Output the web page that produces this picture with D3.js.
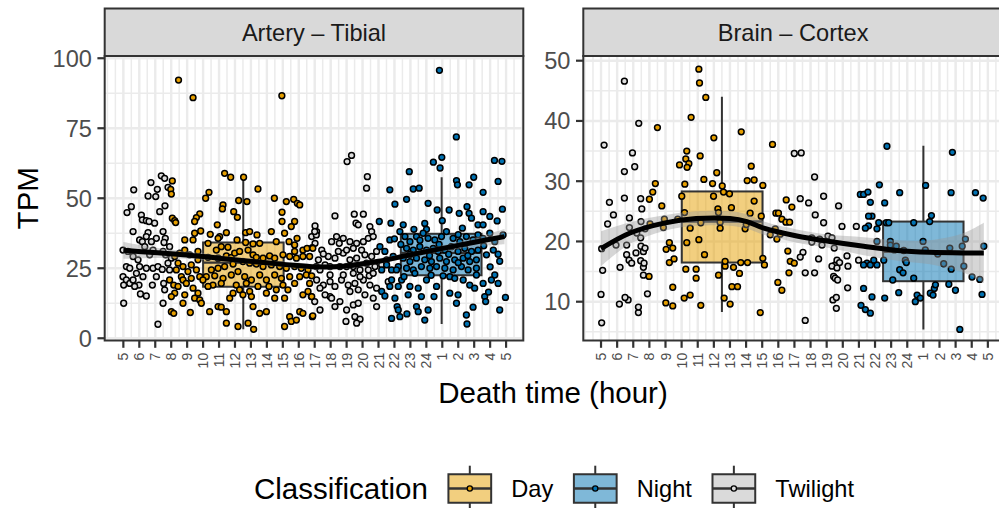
<!DOCTYPE html>
<html>
<head>
<meta charset="utf-8">
<script src="https://cdn.jsdelivr.net/npm/d3@7"></script>
<style>
  html, body { margin: 0; padding: 0; background: #ffffff; }
  svg { display: block; font-family: "Liberation Sans", Arial, Helvetica, sans-serif; }
</style>
</head>
<body>
<svg id="chart" width="999" height="508"></svg>
<script>
// ---------------------------------------------------------------
// Data: expression (TPM) against death time, per tissue and class
// ---------------------------------------------------------------
const tissues = ["Artery – Tibial", "Brain – Cortex"];
const classes = ["Day", "Night", "Twilight"];

// x axis: continuous hour of death, wrapped past midnight (25 = 1 h, ...)
const hourTicks = [5,6,7,8,9,10,11,12,13,14,15,16,17,18,19,20,21,22,23,24,25,26,27,28,29];
const hourTickLabels = ["5","6","7","8","9","10","11","12","13","14","15","16","17","18","19","20","21","22","23","24","1","2","3","4","5"];
const arteryTpmTicks = [0, 25, 50, 75, 100];
const cortexTpmTicks = [10, 20, 30, 40, 50];

// samples as [hour, TPM]
const arteryTwilight = [
  [7.38,58.0],[7.59,57.1],[6.73,55.6],[5.65,53.0],[7.13,53.2],[7.80,53.9],[6.55,50.8],[7.03,50.6],[7.61,47.3],[5.50,47.0],
  [5.23,44.9],[7.28,45.2],[6.13,44.0],[6.19,42.3],[6.44,42.0],[6.61,41.7],[6.96,41.1],[5.61,38.1],[6.55,37.7],[7.49,38.1],
  [6.02,35.1],[6.44,36.3],[7.07,35.7],[6.76,34.5],[6.19,34.5],[7.63,35.7],[7.55,34.2],[6.34,32.7],[4.98,31.5],[5.29,31.0],
  [6.65,29.8],[7.49,31.0],[7.65,29.8],[8.01,28.6],[5.61,29.2],[5.92,28.0],[5.19,25.6],[5.40,25.0],[6.44,25.0],[6.86,25.0],
  [7.17,25.6],[7.44,24.6],[7.80,26.8],[5.82,23.2],[4.98,22.0],[5.19,20.8],[5.02,19.0],[5.40,19.6],[5.98,19.0],[6.82,19.0],
  [7.53,19.6],[7.59,17.3],[6.07,15.8],[6.44,15.1],[7.49,12.5],[5.02,12.5],[7.17,5.0],[5.61,20.8],[6.23,22.0],[7.07,22.0],
  [7.90,24.4],[6.02,25.6],[6.86,31.5],[7.90,32.7],[5.71,18.5],
  [19.03,63.1],[19.31,65.3],[20.30,57.7],[20.25,53.6],[18.27,43.7],[19.48,44.3],[20.05,44.3],[19.59,41.1],[19.73,40.5],[17.02,40.1],
  [17.12,38.1],[20.46,39.9],[20.57,38.1],[16.81,36.3],[17.02,33.9],[17.44,31.5],[18.06,34.5],[18.37,36.3],[18.79,35.7],[18.54,33.9],
  [19.21,34.5],[19.63,33.9],[20.05,34.5],[20.36,35.7],[20.67,36.3],[19.42,32.1],[19.94,31.5],[17.85,29.2],[18.27,28.6],[17.23,28.0],
  [17.65,26.2],[18.79,30.4],[19.21,28.0],[19.63,28.6],[20.15,29.8],[20.57,29.2],[20.88,31.0],[17.33,24.4],[17.96,25.6],[18.58,25.6],
  [19.00,25.6],[19.42,25.6],[19.84,24.4],[20.36,24.4],[20.78,25.6],[21.20,26.2],[21.51,28.0],[17.12,20.8],[17.54,19.0],[17.96,20.2],
  [18.27,18.5],[18.68,20.8],[19.10,19.0],[19.52,19.6],[20.05,20.8],[20.46,19.0],[20.88,17.9],[19.73,17.3],[19.21,16.7],[20.42,22.3],
  [17.96,14.9],[18.58,13.1],[18.06,14.3],[18.27,11.3],[19.42,11.9],[19.73,12.5],[17.33,10.1],[19.52,7.7],[19.84,6.8],[18.96,6.0],
  [19.63,5.4],[17.10,36.9],[17.00,38.1],[17.10,25.6],[17.00,13.1],[17.54,30.1],[18.48,31.0],[19.00,31.5],[20.25,26.8],[20.67,23.2],
  [18.79,22.6],[17.96,22.6],[17.33,17.9],[20.15,15.5],[20.67,14.3],[19.00,10.1],[20.88,11.3],[17.65,15.5],[21.61,20.2],[19.42,23.2],
  [19.84,22.0]
];
const arteryDay = [
  [8.46,92.2],[9.37,85.9],[14.94,86.6],
  [7.97,53.2],[8.07,56.2],[8.01,51.5],[8.07,42.9],[8.22,42.0],[8.28,41.3],[9.79,44.4],[9.58,43.1],[9.47,41.7],[10.16,50.0],[10.37,52.1],
  [11.25,47.6],[11.21,46.2],[11.35,58.9],[11.73,57.5],[12.54,57.5],[12.23,49.2],[12.75,48.8],[11.92,45.2],[12.15,43.2],[13.44,53.3],
  [14.47,50.0],[15.22,48.8],[15.68,49.6],[15.91,48.2],[16.06,47.6],[14.95,45.0],[14.95,41.7],[15.74,41.7],[15.53,39.9],
  [8.85,35.1],[9.37,35.1],[9.47,37.5],[9.85,38.3],[10.45,37.1],[10.89,40.5],[11.04,36.3],[11.46,37.7],[10.94,35.7],[10.31,33.9],
  [11.14,32.7],[10.83,31.5],[11.56,32.5],[12.13,35.1],[12.67,37.7],[12.92,38.1],[13.38,36.9],[12.67,34.2],[13.13,33.7],[13.55,33.9],
  [14.28,38.1],[14.59,34.5],[15.11,37.5],[15.39,34.5],[15.89,35.7],[15.74,33.3],[15.74,31.0],[16.26,31.5],[16.52,32.1],[16.85,32.4],
  [10.31,28.9],[10.94,28.6],[11.46,29.4],[11.77,28.9],[11.98,30.4],[12.29,31.0],[12.82,31.5],[13.13,29.8],[13.34,28.9],[13.76,28.6],
  [14.17,29.4],[14.49,28.6],[15.01,29.8],[15.43,29.2],[15.85,28.6],[16.26,29.2],[16.68,29.2],
  [10.52,24.4],[10.94,25.0],[11.35,25.6],[11.88,26.5],[12.50,27.4],[12.92,26.8],[13.34,26.5],[13.76,25.6],[14.28,26.2],[14.80,25.6],
  [15.22,25.0],[15.74,25.6],[16.16,25.0],[16.58,24.4],
  [10.20,22.0],[10.73,22.3],[11.25,21.4],[11.77,22.6],[12.19,23.8],[12.61,22.0],[13.03,20.8],[13.55,22.6],[13.97,20.8],[14.49,22.6],
  [14.91,21.4],[15.43,22.0],[16.06,22.0],[16.47,22.6],
  [10.62,19.0],[11.14,19.6],[12.08,19.0],[12.71,19.6],[13.44,18.5],[15.01,19.0],[15.74,19.6],
  [8.22,29.2],[8.53,30.4],[8.85,31.5],[9.16,29.8],[9.68,31.0],[8.43,26.8],[8.74,25.6],[9.26,26.2],[9.68,28.0],[8.32,24.4],
  [9.05,23.8],[9.58,24.4],[8.64,22.0],[9.26,21.4],[9.79,22.0],[7.90,20.8],[8.16,19.0],[8.43,18.5],[8.74,20.8],[8.95,19.6],
  [9.37,17.9],[9.99,20.8],[10.31,18.5],
  [8.22,16.1],[8.85,15.5],[9.68,16.1],[9.47,14.3],[9.79,13.7],[9.89,12.5],[8.74,12.5],[8.01,14.9],[8.01,9.5],[8.16,8.9],
  [9.20,9.2],[10.41,9.5],[10.94,11.3],[11.14,11.1],[11.46,9.5],[11.46,5.4],[11.67,14.3],[11.88,16.1],[12.19,4.2],[12.29,17.3],
  [12.50,15.5],[12.92,16.7],[13.03,14.9],[13.13,11.3],[12.82,5.4],[13.17,3.2],[13.55,8.9],[13.97,9.5],[13.97,16.1],[14.13,18.5],
  [14.49,14.3],[14.59,17.3],[15.11,4.2],[15.11,14.3],[15.32,17.3],[15.43,7.7],[15.53,6.0],[15.85,6.5],[16.06,9.5],[16.26,8.9],
  [16.26,15.5],[16.58,16.7],[16.68,19.6],[16.79,14.9],[16.85,7.7],
  [16.88,32.1],[16.81,22.3],[16.81,14.9],[16.88,8.0]
];
const arteryNight = [
  [24.82,95.7],[25.88,71.9],[24.44,62.9],[24.97,64.6],[24.86,60.8],[28.27,63.5],[28.74,63.2],
  [22.93,59.5],[21.71,53.0],[23.18,53.3],[23.55,53.6],[22.76,49.6],[22.03,47.9],[24.11,48.2],[24.68,45.8],[25.89,56.3],[25.95,54.8],
  [26.68,54.8],[26.97,57.5],[27.56,52.1],[28.50,56.0],[28.77,46.1],[26.55,47.0],[25.43,45.8],[26.06,44.6],[26.68,44.6],[21.05,41.7],
  [21.78,41.1],[22.55,40.5],[26.83,42.9],[27.56,45.2],[27.24,40.5],[27.98,43.5],[28.44,41.9],[27.56,40.5],[26.26,39.3],[24.01,38.9],
  [23.22,38.9],
  [21.09,32.7],[21.40,31.0],[21.71,35.1],[21.92,29.2],[21.51,26.2],[21.20,24.4],[21.82,24.4],[22.24,25.6],[22.34,38.1],[22.66,36.3],
  [22.97,34.5],[23.38,36.3],[23.80,37.5],[24.11,35.7],[24.53,35.1],[24.95,36.3],[25.26,38.1],[25.68,35.7],[26.10,34.5],[26.51,36.3],
  [26.93,35.1],[27.24,36.9],[27.56,35.7],[27.98,37.5],[28.29,34.5],[28.81,36.9],
  [22.76,32.1],[23.18,31.5],[23.59,32.7],[24.01,31.5],[24.43,32.1],[24.74,31.0],[25.16,31.5],[25.57,32.7],[25.99,31.0],[26.41,32.1],
  [26.83,31.0],[27.24,31.5],[27.77,29.8],
  [22.55,28.6],[22.97,27.4],[23.38,28.6],[23.90,28.0],[24.32,27.4],[24.84,28.6],[25.26,27.4],[25.78,28.0],[26.31,28.6],[26.72,27.4],
  [27.14,28.0],
  [22.13,24.4],[22.76,25.0],[23.18,24.4],[23.69,25.6],[24.22,25.0],[24.64,25.6],[25.16,25.0],[25.68,24.4],[26.20,25.6],[26.62,24.4],
  [27.14,25.0],
  [21.20,16.7],[21.40,15.1],[21.82,20.8],[22.24,18.5],[22.03,14.3],[22.17,11.3],[22.24,10.1],[21.82,7.1],[22.34,7.7],[22.78,8.7],
  [22.97,18.5],[22.86,15.5],[23.49,17.9],[23.69,14.9],[23.38,11.3],[23.49,9.5],[24.11,10.1],[23.90,6.5],[24.48,14.9],[24.64,18.5],
  [23.28,23.2],[25.05,22.3],[25.47,22.0],[25.78,21.4],[25.47,16.1],[25.99,15.5],[25.89,12.5],[26.51,8.3],[26.55,5.1],[26.93,11.1],
  [26.72,19.0],[27.03,17.9],[27.14,22.6],[27.56,19.6],[27.66,14.9],[27.72,13.1],[28.08,20.8],[28.29,22.6],[28.50,19.6],[28.60,10.1],
  [28.96,14.6],[21.71,18.5],[22.45,20.8],[24.01,20.8],[26.31,20.8],
  [22.40,33.5],[23.00,30.0],[23.60,35.0],[24.20,29.5],[24.80,33.5],[25.40,30.0],[26.00,37.0],[26.60,29.5],[27.60,33.0],[28.20,31.5],
  [28.60,27.5],[22.00,35.5],[23.90,41.0],[25.00,42.0],[28.00,25.5],[28.50,30.0],[22.60,22.0],[24.30,22.5],[26.00,27.0],[27.90,16.5]
];

const cortexTwilight = [
  [5.19,36.0],[6.45,46.6],[6.95,34.7],[7.09,32.4],[6.45,31.6],[7.34,39.6],
  [5.04,18.8],[5.10,15.2],[5.00,11.2],[5.04,6.5],[5.41,22.9],[5.52,26.5],[5.77,24.4],[5.93,19.4],[6.45,27.2],[6.18,15.7],
  [6.14,9.6],[6.68,10.3],[6.49,10.7],[6.76,23.9],[6.76,22.3],[6.59,19.4],[6.59,17.8],[6.74,16.9],[6.90,16.4],[7.17,18.1],
  [7.22,21.4],[7.32,8.2],[7.32,9.1],[7.46,27.1],[7.53,25.4],[7.48,23.3],[7.46,20.6],[7.48,19.2],[7.63,18.3],[7.46,16.8],
  [7.63,15.7],[7.73,18.9],[7.63,14.4],[7.88,11.3],[7.73,22.1],[7.67,16.4],
  [16.99,34.6],[17.42,34.7],[18.25,30.7],
  [17.36,27.1],[17.88,26.4],[17.53,18.2],[17.36,17.4],[17.67,14.8],[17.67,6.9],[18.08,20.6],[18.08,19.9],[18.29,24.4],[18.25,14.8],
  [18.50,17.1],[18.56,20.4],[18.71,19.4],[18.81,27.5],[18.81,23.1],[19.08,20.9],[19.33,20.6],[19.43,14.2],[19.53,16.1],[19.53,13.9],
  [19.33,15.9],[19.47,18.9],[19.64,16.9],[19.64,15.6],[19.74,25.9],[19.68,13.6],[19.95,22.5],[19.39,10.3],[19.60,10.7],[19.60,8.9],
  [19.80,16.5],[20.26,17.6],[20.32,15.9],[20.30,12.3],[20.84,22.5],[20.98,16.9]
];
const cortexDay = [
  [8.50,38.9],[8.37,29.6],[8.21,28.2],[11.07,48.6],[11.11,46.3],[11.50,43.9],[10.59,40.6],[12.00,37.2],[13.70,38.2],[15.64,36.1],
  [9.87,32.7],[10.26,33.7],[10.32,35.0],[10.45,32.9],[10.34,32.3],[11.15,34.2],[10.20,29.5],[11.38,30.3],[11.92,29.6],[12.18,31.4],
  [12.52,29.2],[14.32,32.5],[14.07,30.1],[14.50,30.2],[15.04,29.3],
  [8.04,22.9],[8.00,27.0],[7.98,14.2],[8.77,25.9],[8.87,22.3],[8.93,23.7],[9.04,18.7],[9.24,19.8],[9.45,18.9],[9.24,16.5],
  [9.53,17.1],[9.02,9.8],[9.45,9.3],[9.45,12.4],[9.76,23.7],[10.01,27.5],[10.18,24.8],[10.32,19.8],[10.53,22.2],[10.26,15.4],
  [10.16,10.6],[10.53,11.1],[10.90,15.4],[10.90,13.9],[11.07,20.3],[11.19,23.1],[11.42,17.8],[11.19,9.4],[11.98,27.5],[12.25,25.4],
  [12.29,24.8],[12.39,23.2],[12.39,22.2],[12.29,14.4],[12.60,28.2],[12.97,27.9],[13.09,25.6],[12.70,15.9],[12.70,16.7],[12.64,10.6],
  [13.01,9.6],[13.22,15.7],[13.12,12.5],[13.47,12.5],[13.59,14.7],[13.67,16.5],[14.09,16.5],[13.94,22.1],[14.01,22.8],[14.25,24.7],
  [14.50,26.7],[14.94,24.2],[15.04,17.2],[15.14,16.1],[14.88,8.2],[15.50,21.1],[15.85,24.7],[16.01,24.7],[15.81,22.1],[15.91,20.4],
  [16.12,21.2],[15.97,13.2],[16.22,11.9],[16.22,23.7],[16.47,23.2],[16.49,26.9],[16.84,25.7],[16.70,23.2],[16.59,18.4],[16.74,16.7],
  [16.66,14.8],[16.99,16.4]
];
const cortexNight = [
  [22.74,35.8],[22.27,29.4],[25.14,29.3],[26.80,34.8],
  [21.09,27.8],[21.29,27.8],[21.56,28.2],[21.71,26.5],[21.60,22.6],[21.81,24.2],[21.40,22.2],[21.60,24.2],[21.29,12.2],[21.13,9.4],
  [21.40,8.7],[21.71,8.1],[21.50,16.4],[21.29,16.1],[21.71,16.1],[22.12,16.1],[21.92,16.9],[22.12,22.1],[22.23,23.1],[22.12,20.0],
  [22.60,26.4],[21.81,10.8],[22.54,16.9],[22.60,10.6],[22.70,23.1],[22.85,23.1],[22.95,20.0],[22.95,19.4],[23.10,13.6],[23.20,18.6],
  [23.32,19.2],[23.53,15.3],[23.74,14.8],[23.53,28.1],[23.47,11.5],[23.78,18.5],[23.88,16.9],[23.94,16.5],[24.40,23.1],[24.40,13.9],
  [24.50,10.0],[24.61,11.1],[24.81,10.6],[24.98,20.0],[25.12,18.6],[25.39,23.3],[25.50,24.3],[25.43,11.4],[25.60,11.1],[25.68,12.2],
  [25.75,12.8],[25.89,17.9],[26.26,16.3],[26.64,18.9],[26.58,12.9],[26.73,15.4],[26.72,28.1],[26.99,11.9],[27.26,5.4],[27.41,19.2],
  [27.51,15.9],[27.61,20.4],[28.02,14.1],[28.23,28.1],[28.50,13.7],[28.64,11.2],[28.75,19.2],[28.71,27.2]
];

// boxplot summaries (hour span of each class, TPM quantiles and whisker ends)
const arteryBoxes = [
  { cls: "Day",   hourMin: 10.00, hourMax: 15.05, hourMid: 12.52, lower: 3.2, q1: 18.4, median: 27.0, q3: 34.2, upper: 57.5 },
  { cls: "Night", hourMin: 22.40, hourMax: 27.46, hourMid: 24.96, lower: 5.1, q1: 22.5, median: 30.5, q3: 37.3, upper: 57.5 }
];
const cortexBoxes = [
  { cls: "Day",   hourMin: 10.01, hourMax: 15.02, hourMid: 12.50, lower: 8.3, q1: 16.5, median: 23.3, q3: 28.3, upper: 44.0 },
  { cls: "Night", hourMin: 22.50, hourMax: 27.49, hourMid: 25.00, lower: 5.4, q1: 13.4, median: 18.3, q3: 23.3, upper: 35.9 }
];

// loess trend with its standard-error half width
const arterySmoothHour = [5.0, 6.9, 9.0, 11.0, 13.1, 15.2, 17.1, 18.8, 20.9, 23.0, 25.1, 27.1, 28.9];
const arterySmoothFit  = [31.4, 30.6, 29.7, 28.6, 27.4, 26.3, 25.5, 25.7, 27.4, 29.8, 32.2, 34.4, 36.3];
const arterySmoothSe   = [3.0, 1.9, 1.3, 1.1, 1.0, 1.0, 1.0, 1.0, 1.0, 1.0, 1.1, 1.6, 2.7];
const cortexSmoothHour = [5.0, 6.8, 8.9, 10.9, 13.0, 14.05, 15.1, 17.15, 19.2, 21.3, 23.4, 25.4, 27.5, 28.75];
const cortexSmoothFit  = [18.8, 21.4, 23.05, 23.8, 23.8, 23.3, 22.2, 20.9, 20.0, 19.2, 18.5, 18.2, 18.1, 18.1];
const cortexSmoothSe   = [2.9, 1.8, 1.3, 1.2, 1.2, 1.2, 1.1, 1.1, 1.1, 1.5, 1.7, 2.0, 3.3, 5.0];

// ---------------------------------------------------------------
// Styling and layout
// ---------------------------------------------------------------
const pointFill = { Day: "#E69F00", Night: "#0072B2", Twilight: "#DDDDDD" };
const boxFill   = { Day: "#E69F00", Night: "#0072B2", Twilight: "#B5B5B5" };
const ink = "#333333";
const gridColor = "#EBEBEB";
const baseFont = 29.5, smallFont = 23.6, xTickFont = 14;

const stripTop = 8.5, panelTop = 56, panelBottom = 340.5;
const tickLen = 7.3;
const pointRadius = 2.9, pointStroke = 1.5;

const panels = [
  {
    title: tissues[0], left: 104.7, right: 523.3,
    xDomain: [3.83, 30.08], yDomain: [-0.8, 100.8],
    yTicks: arteryTpmTicks, yMinor: [12.5, 37.5, 62.5, 87.5],
    series: { Twilight: arteryTwilight, Day: arteryDay, Night: arteryNight },
    boxes: arteryBoxes,
    smooth: arterySmoothHour.map((h, i) => ({ h, fit: arterySmoothFit[i], se: arterySmoothSe[i] }))
  },
  {
    title: tissues[1], left: 583.3, right: 1003,
    xDomain: [3.90, 29.94], yDomain: [3.56, 50.78],
    yTicks: cortexTpmTicks, yMinor: [5, 15, 25, 35, 45],
    series: { Twilight: cortexTwilight, Day: cortexDay, Night: cortexNight },
    boxes: cortexBoxes,
    smooth: cortexSmoothHour.map((h, i) => ({ h, fit: cortexSmoothFit[i], se: cortexSmoothSe[i] }))
  }
];

const svg = d3.select("#chart");
svg.append("rect").attr("width", 999).attr("height", 508).attr("fill", "#ffffff");
const defs = svg.append("defs");

panels.forEach((p, pi) => {
  const x = d3.scaleLinear().domain(p.xDomain).range([p.left, p.right]);
  const y = d3.scaleLinear().domain(p.yDomain).range([panelBottom, panelTop]);
  const xMinor = d3.range(4, 30.01, 0.5).filter(v => v >= p.xDomain[0] && v <= p.xDomain[1]);

  const clipId = "panel-clip-" + pi;
  defs.append("clipPath").attr("id", clipId)
    .append("rect").attr("x", p.left).attr("y", panelTop)
    .attr("width", p.right - p.left).attr("height", panelBottom - panelTop);

  const g = svg.append("g");
  const inner = g.append("g").attr("clip-path", `url(#${clipId})`);

  inner.append("rect").attr("x", p.left).attr("y", panelTop)
    .attr("width", p.right - p.left).attr("height", panelBottom - panelTop).attr("fill", "#ffffff");

  // grid
  const grid = inner.append("g").attr("stroke", gridColor).attr("fill", "none");
  grid.selectAll("line.xminor").data(xMinor).join("line").attr("class", "xminor")
    .attr("x1", d => x(d)).attr("x2", d => x(d)).attr("y1", panelTop).attr("y2", panelBottom)
    .attr("stroke-width", 1.5);
  grid.selectAll("line.yminor").data(p.yMinor).join("line").attr("class", "yminor")
    .attr("y1", d => y(d)).attr("y2", d => y(d)).attr("x1", p.left).attr("x2", p.right)
    .attr("stroke-width", 1.5);
  grid.selectAll("line.xmajor").data(hourTicks).join("line").attr("class", "xmajor")
    .attr("x1", d => x(d)).attr("x2", d => x(d)).attr("y1", panelTop).attr("y2", panelBottom)
    .attr("stroke-width", 2.4);
  grid.selectAll("line.ymajor").data(p.yTicks).join("line").attr("class", "ymajor")
    .attr("y1", d => y(d)).attr("y2", d => y(d)).attr("x1", p.left).attr("x2", p.right)
    .attr("stroke-width", 2.4);

  // boxplots
  const boxG = inner.append("g");
  p.boxes.forEach(b => {
    const bg = boxG.append("g").attr("stroke", ink).attr("stroke-width", 2);
    bg.append("line").attr("x1", x(b.hourMid)).attr("x2", x(b.hourMid))
      .attr("y1", y(b.q3)).attr("y2", y(b.upper));
    bg.append("line").attr("x1", x(b.hourMid)).attr("x2", x(b.hourMid))
      .attr("y1", y(b.q1)).attr("y2", y(b.lower));
    bg.append("rect").attr("x", x(b.hourMin)).attr("y", y(b.q3))
      .attr("width", x(b.hourMax) - x(b.hourMin)).attr("height", y(b.q1) - y(b.q3))
      .attr("fill", boxFill[b.cls]).attr("fill-opacity", 0.5);
    bg.append("line").attr("x1", x(b.hourMin)).attr("x2", x(b.hourMax))
      .attr("y1", y(b.median)).attr("y2", y(b.median)).attr("stroke-width", 2.4);
  });

  // samples
  const pts = [];
  ["Twilight", "Day", "Night"].forEach(c => p.series[c].forEach(d => pts.push({ c, h: d[0], v: d[1] })));
  inner.append("g").selectAll("circle").data(pts).join("circle")
    .attr("cx", d => x(d.h)).attr("cy", d => y(d.v)).attr("r", pointRadius)
    .attr("fill", d => pointFill[d.c]).attr("stroke", "#000000").attr("stroke-width", pointStroke);

  // trend band and line
  const curve = d3.curveCatmullRom.alpha(0.5);
  inner.append("path").datum(p.smooth)
    .attr("d", d3.area().x(d => x(d.h)).y0(d => y(d.fit - d.se)).y1(d => y(d.fit + d.se)).curve(curve))
    .attr("fill", "#999999").attr("fill-opacity", 0.4);
  inner.append("path").datum(p.smooth)
    .attr("d", d3.line().x(d => x(d.h)).y(d => y(d.fit)).curve(curve))
    .attr("fill", "none").attr("stroke", "#000000").attr("stroke-width", 5)
    .attr("stroke-linecap", "butt");

  // panel border
  g.append("rect").attr("x", p.left).attr("y", panelTop)
    .attr("width", p.right - p.left).attr("height", panelBottom - panelTop)
    .attr("fill", "none").attr("stroke", ink).attr("stroke-width", 2);

  // strip
  g.append("rect").attr("x", p.left).attr("y", stripTop)
    .attr("width", p.right - p.left).attr("height", panelTop - stripTop)
    .attr("fill", "#D9D9D9").attr("stroke", ink).attr("stroke-width", 2);
  g.append("text").attr("x", (p.left + p.right) / 2).attr("y", (stripTop + panelTop) / 2)
    .attr("dy", "0.36em").attr("text-anchor", "middle")
    .attr("font-size", smallFont).attr("fill", "#1A1A1A").text(p.title);

  // x axis
  const xa = g.append("g");
  xa.selectAll("line").data(hourTicks).join("line")
    .attr("x1", d => x(d)).attr("x2", d => x(d))
    .attr("y1", panelBottom).attr("y2", panelBottom + tickLen)
    .attr("stroke", ink).attr("stroke-width", 2.2);
  xa.selectAll("text").data(hourTicks).join("text")
    .attr("transform", d => `translate(${x(d)},${panelBottom + tickLen + 5}) rotate(-90)`)
    .attr("text-anchor", "end").attr("dy", "0.36em")
    .attr("font-size", xTickFont).attr("fill", "#4D4D4D")
    .text((d, i) => hourTickLabels[i]);

  // y axis
  const ya = g.append("g");
  ya.selectAll("line").data(p.yTicks).join("line")
    .attr("x1", p.left - tickLen).attr("x2", p.left)
    .attr("y1", d => y(d)).attr("y2", d => y(d))
    .attr("stroke", ink).attr("stroke-width", 2.2);
  ya.selectAll("text").data(p.yTicks).join("text")
    .attr("x", p.left - tickLen - 5.5).attr("y", d => y(d)).attr("dy", "0.36em")
    .attr("text-anchor", "end").attr("font-size", smallFont).attr("fill", "#4D4D4D")
    .text(d => d);
});

// axis titles
svg.append("text").attr("x", 553).attr("y", 403).attr("text-anchor", "middle")
  .attr("font-size", baseFont).attr("fill", "#000000").text("Death time (hour)");
svg.append("text").attr("transform", `translate(38,${(panelTop + panelBottom) / 2}) rotate(-90)`)
  .attr("text-anchor", "middle").attr("font-size", baseFont).attr("fill", "#000000").text("TPM");

// legend
const legendMid = 488.5, keySize = 57;
const legend = svg.append("g");
const legendTitle = legend.append("text").attr("x", 254).attr("y", legendMid).attr("dy", "0.36em")
  .attr("font-size", baseFont).attr("fill", "#000000").text("Classification");
let cursor = 254 + legendTitle.node().getComputedTextLength() + 13.5;
classes.forEach(c => {
  const k = legend.append("g").attr("transform", `translate(${cursor},${legendMid - keySize / 2})`);
  k.append("rect").attr("width", keySize).attr("height", keySize).attr("fill", "#ffffff");
  const kg = k.append("g").attr("stroke", ink).attr("stroke-width", 2);
  kg.append("line").attr("x1", keySize / 2).attr("x2", keySize / 2).attr("y1", keySize * 0.1).attr("y2", keySize * 0.25);
  kg.append("line").attr("x1", keySize / 2).attr("x2", keySize / 2).attr("y1", keySize * 0.75).attr("y2", keySize * 0.9);
  kg.append("rect").attr("x", keySize * 0.125).attr("y", keySize * 0.25)
    .attr("width", keySize * 0.75).attr("height", keySize * 0.5)
    .attr("fill", boxFill[c]).attr("fill-opacity", 0.5);
  kg.append("line").attr("x1", keySize * 0.125).attr("x2", keySize * 0.875)
    .attr("y1", keySize / 2).attr("y2", keySize / 2).attr("stroke-width", 2.4);
  k.append("circle").attr("cx", keySize / 2).attr("cy", keySize / 2).attr("r", 2.6)
    .attr("fill", pointFill[c]).attr("stroke", "#000000").attr("stroke-width", 1.3);
  const labelX = cursor + keySize + 13;
  const lbl = legend.append("text").attr("x", labelX).attr("y", legendMid).attr("dy", "0.36em")
    .attr("font-size", smallFont).attr("fill", "#000000").text(c);
  cursor = labelX + lbl.node().getComputedTextLength() + 13.5;
});
</script>
</body>
</html>
